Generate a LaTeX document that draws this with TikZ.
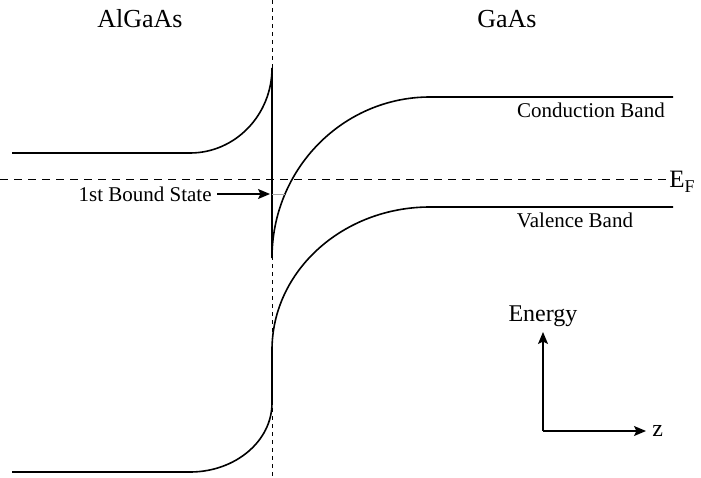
\documentclass[tikz,border=0pt]{standalone}
\usepackage{fontspec}
\setmainfont{Liberation Serif}
\usepackage{tikz}
\usetikzlibrary{arrows.meta,positioning}
\tikzset{
	band/.style={line width=0.8pt, black},
	fermi/.style={line width=0.5pt, dash pattern=on 4pt off 3pt},
	iface/.style={line width=0.5pt, dash pattern=on 2.2pt off 1.8pt},
	region/.style={font=\fontsize{13}{15}\selectfont, inner sep=0pt, anchor=base},
	bandlabel/.style={font=\fontsize{10.5}{12}\selectfont, inner sep=0pt, anchor=base},
	boundline/.style={line width=0.5pt, black!35},
	axis/.style={-{Stealth[length=6pt, width=5pt, inset=1.2pt]}, line width=0.6pt}
}
\begin{document}
\begin{tikzpicture}[x=0.5pt,y=-0.5pt]
	\useasboundingbox (0,0) rectangle (701,477);
	% interface
	\coordinate (itop) at (272,0);
	\coordinate (ibot) at (272,477);
	\draw[iface] (itop) -- (ibot);
	% bands
	\draw[band] (12,153) -- (190,153) arc[start angle=90, end angle=0, x radius=82, y radius=85]
		-- (272,258) arc[start angle=180, end angle=270, x radius=158, y radius=161] -- (673,97);
	\draw[band] (12,472) -- (190,472) arc[start angle=90, end angle=0, x radius=82, y radius=69]
		-- (272,350) arc[start angle=180, end angle=270, x radius=158, y radius=143] -- (673,207);
	% fermi level
	\coordinate (fstart) at (0,179);
	\coordinate (fend) at (672,179);
	\draw[fermi] (fstart) -- (fend);
	\node[region, font=\fontsize{12.5}{14}\selectfont, anchor=base west] (EF) at (669,187)
		{E\raisebox{-0.45ex}{\fontsize{9}{10}\selectfont F}};
	% bound state
	\coordinate (bs1) at (272,194);
	\coordinate (bs2) at (285,194);
	\draw[boundline] (bs1) -- (bs2);
	\coordinate (bstate) at (270,194);
	\node[bandlabel, anchor=east, left=29pt of bstate] (bound) {1st Bound State};
	\draw[axis, shorten <=2.5pt] (bound) -- (bstate);
	% labels
	\node[region] (algaas) at (140,27) {AlGaAs};
	\node[region] (gaas) at (507,27) {GaAs};
	\node[bandlabel] (cband) at (591,117) {Conduction Band};
	\node[bandlabel] (vband) at (575,227) {Valence Band};
	% axes
	\coordinate (origin) at (543,431);
	\coordinate (etop) at (543,332);
	\coordinate (zend) at (646,431);
	\draw[axis] (origin) -- (etop);
	\draw[axis] (origin) -- (zend);
	\node[region, font=\fontsize{12}{14}\selectfont, anchor=south, above=2.5pt of etop] (energy) {Energy};
	\node[region, font=\fontsize{12}{14}\selectfont, anchor=west, right=3pt of zend] (zlbl) {z};
\end{tikzpicture}
\end{document}
